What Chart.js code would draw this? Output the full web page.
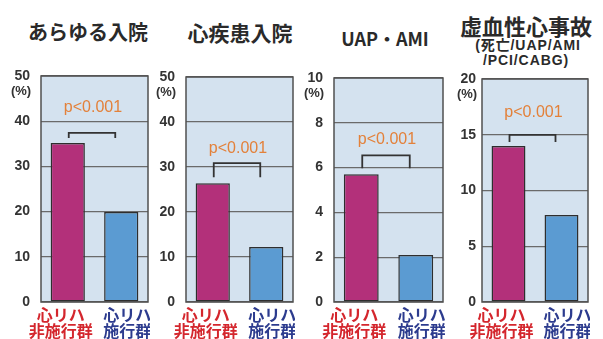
<!DOCTYPE html>
<html>
<head>
<meta charset="utf-8">
<script src="https://cdn.jsdelivr.net/npm/chart.js@4.4.1/dist/chart.umd.min.js"></script>
<style>
  html, body { margin: 0; padding: 0; background: #fff; }
  body { width: 603px; height: 339px; position: relative; overflow: hidden; }
  canvas { position: absolute; top: 0; }
  .title { position: absolute; white-space: nowrap; transform: translate(-50%, -50%); color: #2a2a2a;
           font-family: "Noto Sans CJK JP", sans-serif; font-weight: 700; line-height: 1; }
  .sub { font-family: "Liberation Sans", "Noto Sans CJK JP", sans-serif; font-size: 14px; letter-spacing: 0.9px; }
</style>
</head>
<body>
<script>
// Outcome categories and group labels
const titles = ['あらゆる入院', '心疾患入院', 'UAP・AMI', '虚血性心事故'];
const subtitleLines = ['(死亡/UAP/AMI', '/PCI/CABG)'];
const groupLabels = [['心リハ', '非施行群'], ['心リハ', '施行群']];

// Event rates (%)
const noRehabRates = [35.2, 26.4, 5.7, 14.0];
const rehabRates = [19.9, 12.2, 2.1, 7.8];

// Axis ranges and significance text
const yMaxValues = [50, 50, 10, 20];
const yStepValues = [10, 10, 2, 5];
const pValueTexts = ['p<0.001', 'p<0.001', 'p<0.001', 'p<0.001'];

// Panel geometry (pixels)
const panels = [
  { left: 0,   width: 150, axisW: 41, top: 76, tickPad: 11, titleX: 88,  titleY: 32, titleSize: 20, bracketUp: 10, leg: 5,  textUp: 25 },
  { left: 150, width: 145, axisW: 36, top: 77, tickPad: 11, titleX: 240, titleY: 32, titleSize: 21, bracketUp: 20, leg: 14, textUp: 15 },
  { left: 300, width: 145, axisW: 34, top: 78, tickPad: 11, titleX: 385, titleY: 38, titleSize: 18, bracketUp: 19, leg: 13, textUp: 16 },
  { left: 445, width: 145, axisW: 37, top: 79, tickPad: 6,  titleX: 526, titleY: 25, titleSize: 22, bracketUp: 11, leg: 7,  textUp: 22 }
];

const barColors = ['#b3307a', '#5b9bd2'];
const labelColors = ['#d4262d', '#2c3b8e'];
const labelSpread = [-7, 6];
const plotBg = '#d4e2ef';

// Titles
titles.forEach((t, i) => {
  const d = document.createElement('div');
  d.className = 'title';
  d.textContent = t;
  d.style.left = panels[i].titleX + 'px';
  d.style.top = panels[i].titleY + 'px';
  d.style.fontSize = panels[i].titleSize + 'px';
  document.body.appendChild(d);
});
subtitleLines.forEach((t, k) => {
  const d = document.createElement('div');
  d.className = 'title sub';
  d.textContent = t;
  d.style.left = (k === 0 ? 528 : 526) + 'px';
  d.style.top = (k === 0 ? 45 : 60) + 'px';
  document.body.appendChild(d);
});

// Light blue plot background, framed box
const framePlugin = {
  id: 'frame',
  beforeDraw(chart) {
    const a = chart.chartArea, ctx = chart.ctx;
    ctx.save();
    ctx.fillStyle = plotBg;
    ctx.fillRect(a.left, a.top, a.right - a.left, a.bottom - a.top);
    ctx.restore();
  },
  afterDraw(chart) {
    const a = chart.chartArea, ctx = chart.ctx;
    ctx.save();
    ctx.strokeStyle = '#505050';
    ctx.lineWidth = 1.5;
    ctx.strokeRect(a.left, a.top, a.right - a.left, a.bottom - a.top);
    ctx.restore();
  }
};

// Significance bracket, p-value text, unit label and group labels
const annotPlugin = {
  id: 'annot',
  afterDraw(chart, args, opts) {
    const ctx = chart.ctx, x = chart.scales.x, y = chart.scales.y, a = chart.chartArea;
    const p = opts.panel, idx = opts.index;
    const c1 = x.getPixelForValue(0), c2 = x.getPixelForValue(1);
    const hiY = Math.min(y.getPixelForValue(noRehabRates[idx]), y.getPixelForValue(rehabRates[idx]));
    const top = hiY - p.bracketUp;
    const x1 = c1 + 1, x2 = c2 - 6;
    ctx.save();
    ctx.strokeStyle = '#333';
    ctx.lineWidth = 1.8;
    ctx.beginPath();
    ctx.moveTo(x1, top + p.leg);
    ctx.lineTo(x1, top);
    ctx.lineTo(x2, top);
    ctx.lineTo(x2, top + p.leg);
    ctx.stroke();

    ctx.fillStyle = '#e3813a';
    ctx.font = '16px "Liberation Sans", Arial, sans-serif';
    ctx.textAlign = 'center';
    ctx.textBaseline = 'middle';
    ctx.fillText(pValueTexts[idx], (x1 + x2) / 2 + 1, top - p.textUp);

    // unit under the top tick
    ctx.fillStyle = '#333';
    ctx.font = 'bold 13px "Liberation Sans", Arial, sans-serif';
    ctx.fillText('(%)', a.left - p.tickPad - 9, a.top + 15);

    // group labels below the axis
    ctx.font = 'bold 16px "Noto Sans CJK JP", sans-serif';
    groupLabels.forEach((lines, g) => {
      const cx = x.getPixelForValue(g) + labelSpread[g];
      ctx.fillStyle = labelColors[g];
      lines.forEach((ln, k) => ctx.fillText(ln, cx, 315 + k * 16));
    });
    ctx.restore();
  }
};

panels.forEach((p, i) => {
  const cv = document.createElement('canvas');
  cv.width = p.width;
  cv.height = 339;
  cv.style.left = p.left + 'px';
  cv.style.width = p.width + 'px';
  cv.style.height = '339px';
  document.body.appendChild(cv);

  new Chart(cv, {
    type: 'bar',
    data: {
      labels: groupLabels.map(l => l.join('')),
      datasets: [{
        data: [noRehabRates[i], rehabRates[i]],
        backgroundColor: barColors,
        borderColor: '#2e2e2e',
        borderWidth: 1.5,
        borderSkipped: false,
        barPercentage: 0.64,
        categoryPercentage: 1
      }]
    },
    options: {
      responsive: false,
      animation: false,
      devicePixelRatio: 1,
      layout: { padding: { top: p.top, right: 2, left: 0, bottom: 0 } },
      plugins: {
        legend: { display: false },
        tooltip: { enabled: false },
        annot: { panel: p, index: i }
      },
      scales: {
        x: {
          grid: { display: false },
          border: { display: false },
          ticks: { display: false },
          afterFit(s) { s.height = 37; }
        },
        y: {
          min: 0,
          max: yMaxValues[i],
          ticks: {
            stepSize: yStepValues[i],
            padding: p.tickPad,
            color: '#333',
            font: { family: '"Liberation Sans", Arial, sans-serif', size: 14, weight: 'bold' }
          },
          grid: { color: '#6a6a6a', lineWidth: 1.2, drawTicks: false },
          border: { display: false },
          afterFit(s) { s.width = p.axisW; }
        }
      }
    },
    plugins: [framePlugin, annotPlugin]
  });
});
</script>
</body>
</html>
